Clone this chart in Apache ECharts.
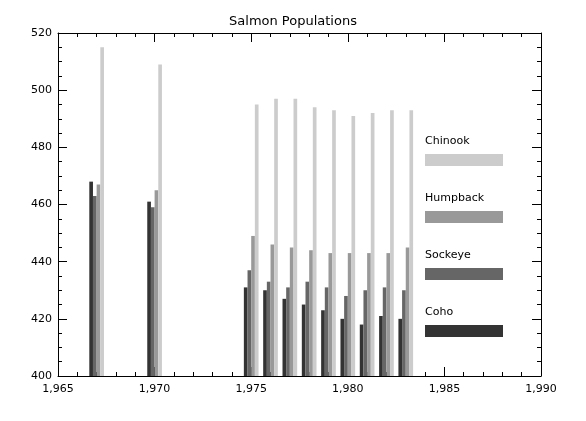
<!DOCTYPE html>
<html><head><meta charset="utf-8">
<script src="https://cdn.jsdelivr.net/npm/echarts@6/dist/echarts.min.js"></script>
<style>html,body{margin:0;background:#fff}#c{width:586px;height:421px}</style>
</head><body><div id="c"></div>
<script>
const years = [1967, 1970, 1975, 1976, 1977, 1978, 1979, 1980, 1981, 1982, 1983];
const coho = [468, 461, 431, 430, 427, 425, 423, 420, 418, 421, 420];
const sockeye = [463, 459, 437, 433, 431, 433, 431, 428, 430, 431, 430];
const humpback = [467, 465, 449, 446, 445, 444, 443, 443, 443, 443, 445];
const chinook = [515, 509, 495, 497, 497, 494, 493, 491, 492, 493, 493];
const names = ['Coho', 'Sockeye', 'Humpback', 'Chinook'];
const colors = ['#333333', '#666666', '#999999', '#cccccc'];
const seriesData = [coho, sockeye, humpback, chinook];

const chart = echarts.init(document.getElementById('c'));
const font = { fontFamily: 'DejaVu Sans', fontSize: 11, color: '#000' };
const axisCommon = {
    axisLine: { lineStyle: { color: '#000' } },
    axisTick: { inside: true, length: 9, lineStyle: { color: '#000' } },
    minorTick: { show: true, length: 4, lineStyle: { color: '#000' } },
    splitLine: { show: false }
};
function makeSeries(i) {
    return {
        type: 'custom', name: names[i],
        data: years.map((y, k) => [y, seriesData[i][k]]),
        renderItem: (params, api) => {
            const x = api.value(0) + (i - 1.5) * 0.19;
            const p0 = api.coord([x - 0.095, api.value(1)]);
            const p1 = api.coord([x + 0.095, 400]);
            return { type: 'rect', shape: { x: p0[0], y: p0[1], width: p1[0] - p0[0], height: p1[1] - p0[1] }, style: { fill: colors[i] } };
        }
    };
}
const legendY = [142, 199, 256, 313];
const graphic = [];
for (let i = 0; i < 4; i++) {
    const j = 3 - i;
    graphic.push({ type: 'text', left: 425, top: legendY[i] - 6, style: { text: names[j], font: '11px DejaVu Sans', fill: '#000' } });
    graphic.push({ type: 'rect', left: 425, top: legendY[i] + 12, shape: { width: 78, height: 12 }, style: { fill: colors[j] } });
}
chart.setOption({
    animation: false,
    title: { text: 'Salmon Populations', left: 'center', top: 10, textStyle: { fontFamily: 'DejaVu Sans', fontSize: 13, fontWeight: 'normal', color: '#000' } },
    grid: { left: 58, right: 45, top: 33, bottom: 45 },
    xAxis: [
        Object.assign({ type: 'value', min: 1965, max: 1990, interval: 5, minorTick: { show: true, splitNumber: 5, length: 4, lineStyle: { color: '#000' } }, axisLabel: Object.assign({ margin: 8 }, font) }, { axisLine: axisCommon.axisLine, axisTick: axisCommon.axisTick, splitLine: axisCommon.splitLine }),
        Object.assign({ type: 'value', position: 'top', min: 1965, max: 1990, interval: 5, minorTick: { show: true, splitNumber: 5, length: 4, lineStyle: { color: '#000' } }, axisLabel: { show: false } }, { axisLine: axisCommon.axisLine, axisTick: axisCommon.axisTick, splitLine: axisCommon.splitLine })
    ],
    yAxis: [
        Object.assign({ type: 'value', min: 400, max: 520, interval: 20, minorTick: { show: true, splitNumber: 4, length: 4, lineStyle: { color: '#000' } }, axisLabel: Object.assign({ margin: 6 }, font) }, { axisLine: axisCommon.axisLine, axisTick: axisCommon.axisTick, splitLine: axisCommon.splitLine }),
        Object.assign({ type: 'value', position: 'right', min: 400, max: 520, interval: 20, minorTick: { show: true, splitNumber: 4, length: 4, lineStyle: { color: '#000' } }, axisLabel: { show: false } }, { axisLine: axisCommon.axisLine, axisTick: axisCommon.axisTick, splitLine: axisCommon.splitLine })
    ],
    series: [0, 1, 2, 3].map(makeSeries),
    graphic: graphic
});
</script></body></html>
